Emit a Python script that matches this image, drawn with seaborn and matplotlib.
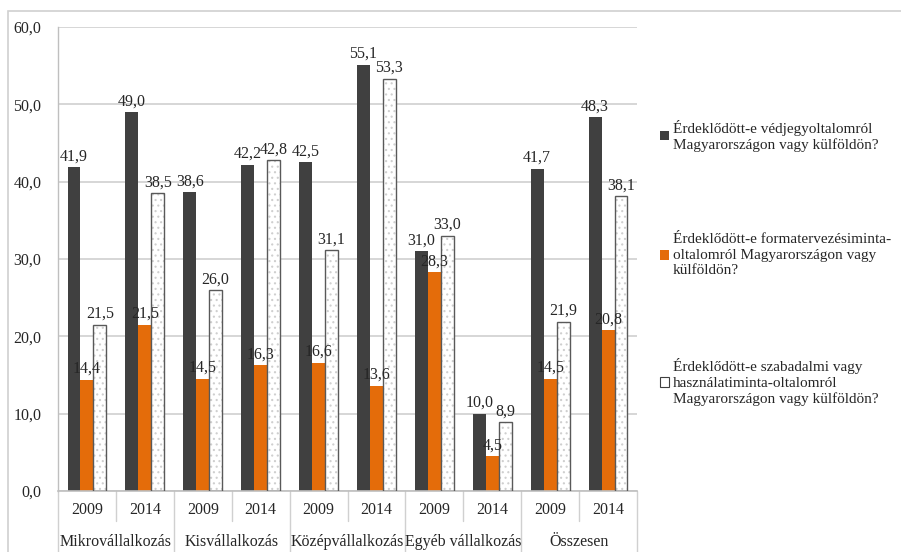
import pandas as pd
import matplotlib.pyplot as plt
import matplotlib.transforms as mtransforms
from matplotlib.patches import Rectangle
import seaborn as sns


# Adatok
kategoriak = ['Mikrovállalkozás', 'Kisvállalkozás', 'Középvállalkozás', 'Egyéb vállalkozás', 'Összesen']
evek = ['2009', '2014']
sorozatok = ['Érdeklődött-e védjegyoltalomról\nMagyarországon vagy külföldön?',
             'Érdeklődött-e formatervezésiminta-\noltalomról Magyarországon vagy\nkülföldön?',
             'Érdeklődött-e szabadalmi vagy\nhasználatiminta-oltalomról\nMagyarországon vagy külföldön?']
vedjegy = [41.9, 49.0, 38.6, 42.2, 42.5, 55.1, 31.0, 10.0, 41.7, 48.3]
formaterv = [14.4, 21.5, 14.5, 16.3, 16.6, 13.6, 28.3, 4.5, 14.5, 20.8]
szabadalom = [21.5, 38.5, 26.0, 42.8, 31.1, 53.3, 33.0, 8.9, 21.9, 38.1]

poziciok = [f'{k}|{e}' for k in kategoriak for e in evek]
dados = pd.DataFrame({
    'Pozicio': poziciok * 3,
    'Sorozat': [sorozatok[0]] * 10 + [sorozatok[1]] * 10 + [sorozatok[2]] * 10,
    'Ertek': vedjegy + formaterv + szabadalom,
})

# --------------------------------------- Figura -----------------------------------------
sns.set_style("white")
plt.rcParams['font.family'] = ['Liberation Serif', 'DejaVu Serif']
plt.rcParams['hatch.linewidth'] = 0.8

fs = 11.5
fig = plt.figure(figsize=(9.01, 5.52), dpi=100)
ax = fig.add_axes([58 / 901, 1 - 491 / 552, (637 - 58) / 901, (491 - 27) / 552])

szinek = ['#404040', '#E46C0A', '#FFFFFF']
sns.barplot(data=dados, x='Pozicio', y='Ertek', hue='Sorozat', order=poziciok,
            hue_order=sorozatok, palette=szinek, width=0.67, gap=0, saturation=1,
            edgecolor='none', linewidth=0, ax=ax, legend=False)

# Pontozott fehér oszlopok
for cont, nev in zip(ax.containers, sorozatok):
    for bar in cont:
        if nev == sorozatok[2]:
            bar.set_hatch('...')
            bar.set_edgecolor('#CFCFCF')
            bar.set_linewidth(0)
            ax.add_patch(Rectangle((bar.get_x(), bar.get_y()), bar.get_width(), bar.get_height(),
                                   fill=False, edgecolor='#595959', linewidth=1.0, zorder=3))

# Adatcímkék
for cont in ax.containers:
    ax.bar_label(cont, labels=[f'{v:.1f}'.replace('.', ',') for v in cont.datavalues],
                 padding=2, fontsize=fs, color='#262626', zorder=5)

ax.set_ylim(0, 60)
ax.set_xlim(-0.5, 9.5)
ax.set_yticks(range(0, 61, 10))
ax.set_yticklabels([f'{v},0' for v in range(0, 61, 10)], fontsize=fs, color='#262626')
ax.yaxis.grid(True, color='#D0D0D0', linewidth=1.2)
ax.set_axisbelow(True)
ax.tick_params(axis='y', length=0, pad=12)
ax.set_xticks([])
ax.set_xlabel('')
ax.set_ylabel('')
for s in ['top', 'right']:
    ax.spines[s].set_visible(False)
ax.spines['left'].set_color('#BFBFBF')
ax.spines['bottom'].set_color('#BFBFBF')
ax.spines['left'].set_linewidth(1.0)
ax.spines['bottom'].set_linewidth(1.2)

# Kétszintű x tengely
trans = mtransforms.blended_transform_factory(ax.transData, ax.transAxes)
for i, poz in enumerate(poziciok):
    ax.text(i, -0.042, poz.split('|')[1], transform=trans, ha='center', va='center',
            fontsize=fs, color='#262626')
for j, kat in enumerate(kategoriak):
    ax.text(2 * j + 0.5, -0.11, kat, transform=trans, ha='center', va='center',
            fontsize=11.5, color='#262626')
    ax.plot([2 * j + 0.5] * 2, [0, -0.065], transform=trans, color='#D0D0D0',
            linewidth=1.0, clip_on=False)
for x in range(-1, 10, 2):
    ax.plot([x + 0.5] * 2, [0, -0.2], transform=trans, color='#D0D0D0',
            linewidth=1.0, clip_on=False)

# Jelmagyarázat
kezelok = [Rectangle((0, 0), 1, 1, facecolor=szinek[0], edgecolor='none'),
           Rectangle((0, 0), 1, 1, facecolor=szinek[1], edgecolor='none'),
           Rectangle((0, 0), 1, 1, facecolor='white', edgecolor='#404040', linewidth=0.8)]
leg = fig.legend(kezelok, sorozatok, loc='upper left', bbox_to_anchor=(646 / 901, 1 - 106 / 552),
                 frameon=False, fontsize=11, handlelength=0.6, handleheight=0.6,
                 handletextpad=0.25, labelspacing=5.3, labelcolor='#262626')
for t in leg.get_texts():
    t.set_linespacing(1.25)

# Keret
fig.patches.append(Rectangle((8 / 901, -0.1), 1.2, 1 - 11 / 552 + 0.1, transform=fig.transFigure,
                             fill=False, edgecolor='#D0D0D0', linewidth=1.2))

plt.savefig('out.png', dpi=100)
